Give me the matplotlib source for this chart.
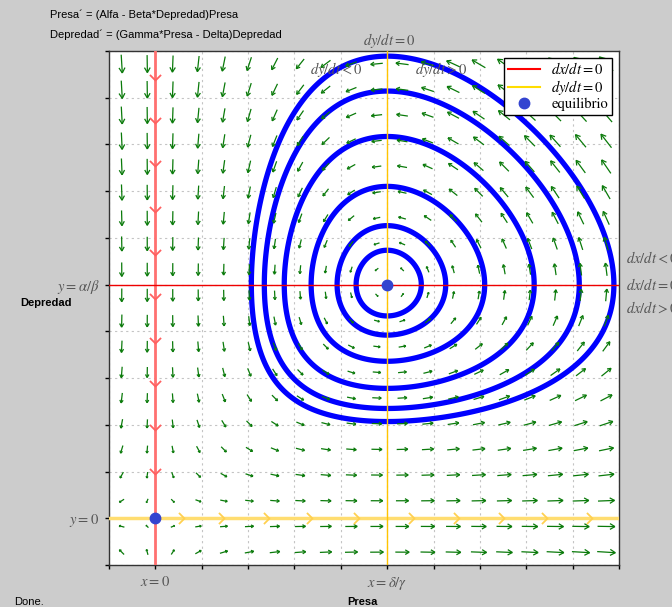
"""
Lotka-Volterra phase portrait: presa / depredador.
"""

import numpy as np
import matplotlib
matplotlib.use("Agg")
from matplotlib import pyplot as plt
from matplotlib.lines import Line2D
from matplotlib.collections import LineCollection
from matplotlib.path import Path


# Model parameters
ALFA = 1.0
BETA = 0.2
GAMMA = 0.2
DELTA = 1.0

# Plot window and grid
X_RANGE = (-1, 10)
Y_RANGE = (-1, 10)
GRID_TICKS = list(range(-1, 11))
FIELD_N = 20

# Left crossing (on y = alfa/beta) of each drawn orbit
ORBIT_X0 = [4.33, 3.92, 3.36, 2.78, 2.35, 2.07]

# Flow markers along the invariant axes
RED_CHEVRONS_Y = [9.38, 8.45, 7.53, 6.56, 5.63, 4.69, 3.76, 2.84, 1.89, 0.95]
YELLOW_CHEVRONS_X = [0.62, 1.49, 2.46, 3.38, 4.40, 5.58, 6.55, 7.52, 8.45, 9.42]

# Visual elements
BG_COLOR = "#cccccc"
FIELD_COLOR = "#0a7a0a"
ORBIT_COLOR = "#0000ff"
EQ_COLOR = "#3344d0"
LABEL_COLOR = "#555555"
ARROW_MAX = 0.42


def field(x, y):
    """Right hand side of the Lotka-Volterra system."""
    return (ALFA - BETA * y) * x, (GAMMA * x - DELTA) * y


def draw_field(axis):
    """Draw the direction field as thin arrows with open heads."""
    step = (X_RANGE[1] - X_RANGE[0]) / FIELD_N
    xs = X_RANGE[0] + step * (np.arange(FIELD_N) + 0.5)
    ys = Y_RANGE[0] + step * (np.arange(FIELD_N) + 0.5)
    gx, gy = np.meshgrid(xs, ys)
    u, v = field(gx, gy)
    mag = np.hypot(u, v)
    lengths = ARROW_MAX * (mag / mag.max()) ** 0.45

    segs = []
    for x, y, du, dv, m, l in zip(gx.ravel(), gy.ravel(), u.ravel(),
                                  v.ravel(), mag.ravel(), lengths.ravel()):
        ux, uy = du / m, dv / m
        tail = (x - ux * l / 2, y - uy * l / 2)
        tip = (x + ux * l / 2, y + uy * l / 2)
        segs.append([tail, tip])
        h = 0.33 * l
        ang = np.arctan2(uy, ux)
        for off in (np.radians(150), -np.radians(150)):
            segs.append([tip, (tip[0] + h * np.cos(ang + off),
                               tip[1] + h * np.sin(ang + off))])
    axis.add_collection(LineCollection(segs, colors=FIELD_COLOR,
                                       linewidths=0.9, zorder=3))


def draw_orbits(axis):
    """Closed orbits as level sets of the conserved quantity."""
    xs = np.linspace(0.3, 11, 900)
    ys = np.linspace(0.3, 11, 900)
    gx, gy = np.meshgrid(xs, ys)
    cons = GAMMA * gx - DELTA * np.log(gx) + BETA * gy - ALFA * np.log(gy)
    ye = ALFA / BETA
    levels = sorted(GAMMA * x0 - DELTA * np.log(x0) + BETA * ye - ALFA * np.log(ye)
                    for x0 in ORBIT_X0)
    axis.contour(gx, gy, cons, levels=levels, colors=ORBIT_COLOR,
                 linewidths=3.8, linestyles="solid", zorder=2)


def chevron(direction):
    if direction == "down":
        verts = [(-1, 1), (0, 0), (1, 1)]
    else:
        verts = [(-1, 1), (0, 0), (-1, -1)]
    return Path(verts, [Path.MOVETO, Path.LINETO, Path.LINETO])


plt.rcParams["font.family"] = "Liberation Sans"
plt.rcParams["mathtext.fontset"] = "stix"

fig = plt.figure(figsize=(6.72, 6.07), dpi=100, facecolor=BG_COLOR)
ax = fig.add_axes([109 / 672, 1 - 565 / 607, 510 / 672, 514 / 607])
ax.set_facecolor("white")
ax.set_xlim(*X_RANGE)
ax.set_ylim(*Y_RANGE)

# grid
for g in GRID_TICKS:
    ax.axvline(g, color="#c4c4c4", lw=0.8, ls=(0, (2, 3)), zorder=0)
    ax.axhline(g, color="#c4c4c4", lw=0.8, ls=(0, (2, 3)), zorder=0)

draw_orbits(ax)
draw_field(ax)

x_eq = DELTA / GAMMA
y_eq = ALFA / BETA

# nullclines
ax.axvline(0, color="#ff7070", lw=2, zorder=4)
ax.plot([0] * len(RED_CHEVRONS_Y), RED_CHEVRONS_Y, ls="none",
        marker=chevron("down"), ms=8, mec="#ff6060", mfc="none", mew=1.3, zorder=4)
ax.axhline(0, color="#ffdd70", lw=2.5, zorder=4)
ax.plot(YELLOW_CHEVRONS_X, [0] * len(YELLOW_CHEVRONS_X), ls="none",
        marker=chevron("right"), ms=8, mec="#ffd050", mfc="none", mew=1.3, zorder=4)
ax.axhline(y_eq, color="#ee0000", lw=1, zorder=4)
ax.axvline(x_eq, color="#ffc400", lw=1, zorder=4)

# equilibria
ax.plot([0, x_eq], [0, y_eq], ls="none", marker="o", ms=7.5, color=EQ_COLOR, zorder=6)

# region labels
for xt, s in [(x_eq - 1.1, r"$dy/dt < 0$"), (x_eq + 1.17, r"$dy/dt > 0$")]:
    ax.text(xt, 9.6, s, ha="center", va="center", fontsize=10.5,
            color=LABEL_COLOR, zorder=5)

# ticks
ax.set_xticks(GRID_TICKS)
ax.set_yticks(GRID_TICKS)
ax.set_xticklabels([r"$x = 0$" if t == 0 else (r"$x = \delta/\gamma$" if t == 5 else "")
                    for t in GRID_TICKS])
ax.set_yticklabels([r"$y = 0$" if t == 0 else (r"$y = \alpha/\beta$" if t == 5 else "")
                    for t in GRID_TICKS])
ax.tick_params(direction="out", length=3, width=1, labelsize=10.5,
               labelcolor=LABEL_COLOR, pad=4)
for sp in ax.spines.values():
    sp.set_color("#333333")
    sp.set_linewidth(1)

# legend
handles = [Line2D([], [], color="#ff0000", lw=1.5),
           Line2D([], [], color="#ffdd00", lw=1.5),
           Line2D([], [], ls="none", marker="o", ms=7.5, color=EQ_COLOR)]
leg = ax.legend(handles, [r"$dx/dt = 0$", r"$dy/dt = 0$", "equilibrio"],
                loc="upper right", bbox_to_anchor=(0.986, 0.987), borderaxespad=0,
                fancybox=False, framealpha=1, edgecolor="black",
                prop={"family": "STIXGeneral", "size": 10.5},
                labelspacing=0.05, handlelength=2.2, borderpad=0.25,
                handletextpad=0.8)
leg.get_frame().set_linewidth(1)
leg.set_zorder(10)

# outside texts (the right ones run off the figure edge as in the original)
fig.text(389 / 672, 1 - 41 / 607, r"$dy/dt = 0$", ha="center", va="center",
         fontsize=10.5, color=LABEL_COLOR)
for yp, s in [(258, r"$dx/dt < 0$"), (285, r"$dx/dt = 0$"), (308, r"$dx/dt > 0$")]:
    fig.text(626 / 672, 1 - yp / 607, s, ha="left", va="center",
             fontsize=10.5, color=LABEL_COLOR)

fig.text(50 / 672, 1 - 15 / 607, "Presa\u00b4 = (Alfa - Beta*Depredad)Presa",
         fontsize=8, va="center")
fig.text(50 / 672, 1 - 35 / 607, "Depredad\u00b4 = (Gamma*Presa - Delta)Depredad",
         fontsize=8, va="center")
fig.text(20 / 672, 1 - 303 / 607, "Depredad", fontsize=8, fontweight="bold",
         va="center")
fig.text(362 / 672, 1 - 602 / 607, "Presa", fontsize=8, fontweight="bold",
         ha="center", va="center")
fig.text(14 / 672, 1 - 602 / 607, "Done.", fontsize=8, va="center")

fig.savefig("out.png", dpi=100, facecolor=BG_COLOR)
